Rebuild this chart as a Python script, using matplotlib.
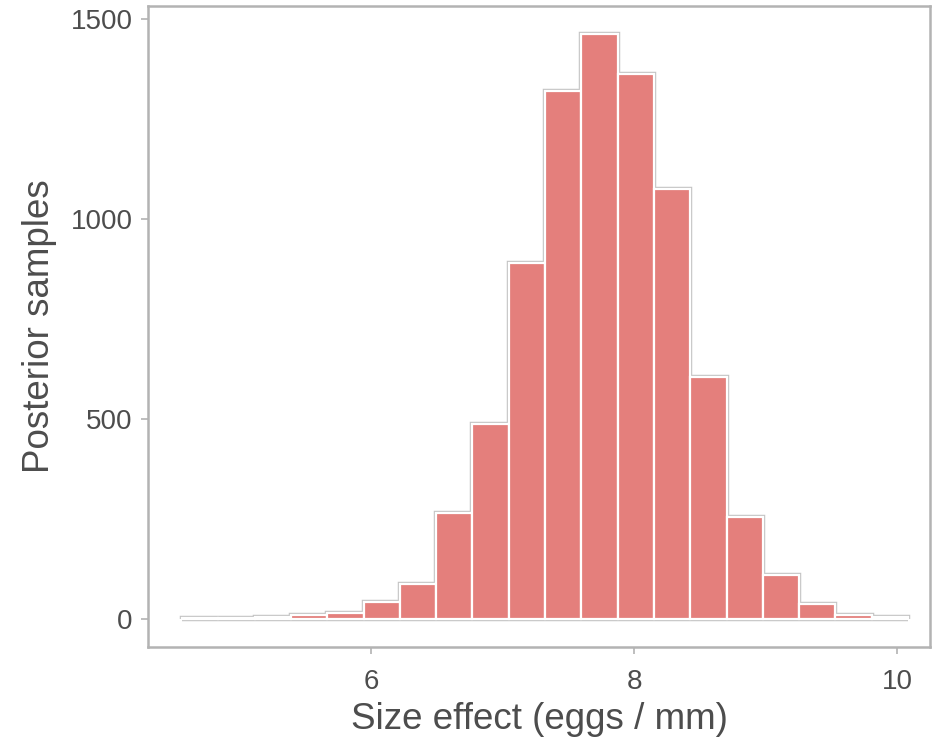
import numpy as np
import matplotlib
matplotlib.use("Agg")
import matplotlib.pyplot as plt

plt.rcParams['font.family'] = ['Liberation Sans', 'DejaVu Sans']

# Histogram data (20 bins)
bin_min = 4.563
bin_max = 10.084
counts = [3, 3, 6, 11, 16, 42, 87, 264, 487, 890,
          1319, 1462, 1362, 1075, 605, 255, 109, 38, 10, 6]
x_ticks = [6, 8, 10]
y_ticks = [0, 500, 1000, 1500]
x_label = "Size effect (eggs / mm)"
y_label = "Posterior samples"

edges = np.linspace(bin_min, bin_max, len(counts) + 1)
widths = np.diff(edges)

fig = plt.figure(figsize=(9.34, 7.41), dpi=100)
ax = fig.add_axes([148/934, 94/741, (930-148)/934, (647-6)/741])

fill_col = '#E47F7C'
halo = '#c4c4c4'
ax.stairs(counts, edges, baseline=0, fill=False, color=halo, linewidth=3.2, zorder=1)
ax.hlines(0, edges[0], edges[-1], color=halo, linewidth=3.2, zorder=1)
ax.bar(edges[:-1], counts, width=widths, align='edge', color=fill_col,
       edgecolor='white', linewidth=1.6, zorder=2)

ax.set_xlim(4.304, 10.251)
ax.set_ylim(-70, 1532)
ax.set_xticks(x_ticks)
ax.set_yticks(y_ticks)

for s in ax.spines.values():
    s.set_color('#b3b3b3')
    s.set_linewidth(1.8)

ax.tick_params(axis='both', colors='#b3b3b3', length=5, width=1.2,
               labelcolor='#4d4d4d', labelsize=20, pad=6)
ax.tick_params(axis='x', pad=11)
ax.set_xlabel(x_label, fontsize=26.5, color='#4d4d4d', labelpad=5)
ax.set_ylabel(y_label, fontsize=26.5, color='#4d4d4d', labelpad=10)

fig.savefig("out.png", dpi=100)
